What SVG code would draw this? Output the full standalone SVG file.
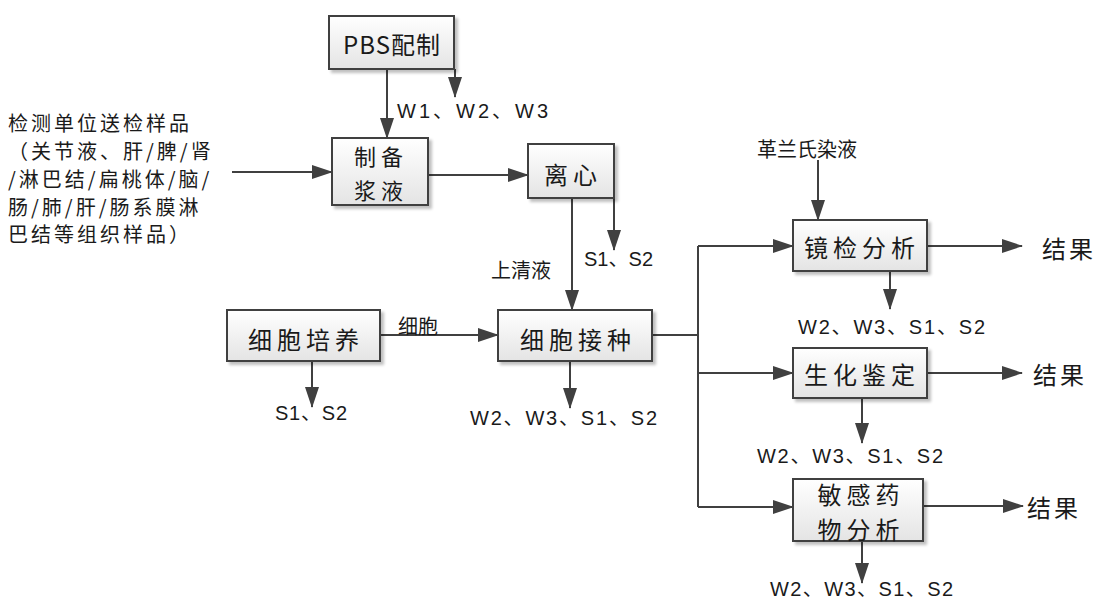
<svg xmlns="http://www.w3.org/2000/svg" width="1097" height="601" viewBox="0 0 1097 601">
<defs>
<linearGradient id="boxfill" x1="0" y1="0" x2="0" y2="1">
<stop offset="0" stop-color="#ffffff"/>
<stop offset="1" stop-color="#e4e4e4"/>
</linearGradient>
<filter id="shadow" x="-10%" y="-10%" width="130%" height="140%">
<feGaussianBlur in="SourceAlpha" stdDeviation="1.5"/>
<feOffset dx="3" dy="3" result="b"/>
<feComponentTransfer><feFuncA type="linear" slope="0.25"/></feComponentTransfer>
<feMerge><feMergeNode/><feMergeNode in="SourceGraphic"/></feMerge>
</filter>
<marker id="arr" markerUnits="userSpaceOnUse" markerWidth="22" markerHeight="14" refX="20" refY="7" orient="auto">
<path d="M0,0 L21,7 L0,14 z" fill="#404040"/>
</marker>
</defs>
<style>
.box{fill:url(#boxfill);stroke:#404040;stroke-width:2;filter:url(#shadow)}
.ln{fill:none;stroke:#404040;stroke-width:2}
.a{marker-end:url(#arr)}
.t{font-family:"Noto Sans CJK SC","Liberation Sans",sans-serif;fill:#1a1a1a}
.bt{font-size:24px;letter-spacing:5px;text-anchor:middle;dominant-baseline:central}
.lt{font-size:20px;dominant-baseline:central}
.w{font-family:"Liberation Sans","Noto Sans CJK SC",sans-serif;font-size:20px;fill:#1a1a1a;dominant-baseline:central}
</style>
<rect width="1097" height="601" fill="#ffffff"/>

<g id="connectors">
<path class="ln a" d="M387,69 V138"/>
<path class="ln a" d="M455,69 V97"/>
<path class="ln a" d="M232,172 H332"/>
<path class="ln a" d="M428,175 H528"/>
<path class="ln a" d="M572,198 V310"/>
<path class="ln a" d="M614,198 V250"/>
<path class="ln a" d="M380,335 H498"/>
<path class="ln a" d="M312,361 V407"/>
<path class="ln a" d="M570,361 V408"/>
<path class="ln" d="M652,335 H698"/>
<path class="ln" d="M698,246 V507"/>
<path class="ln a" d="M698,246 H793"/>
<path class="ln a" d="M698,373 H793"/>
<path class="ln a" d="M698,507 H793"/>
<path class="ln a" d="M818,160 V220"/>
<path class="ln a" d="M927,246 H1022"/>
<path class="ln a" d="M927,373 H1022"/>
<path class="ln a" d="M923,506 H1023"/>
<path class="ln a" d="M890,271 V309"/>
<path class="ln a" d="M862,398 V443"/>
<path class="ln a" d="M862,541 V583"/>
</g>

<g id="node-pbs">
<rect class="box" x="329" y="16" width="125" height="53"/>
<text class="t bt" x="392" y="43" style="letter-spacing:1px">PBS配制</text>
</g>
<g id="node-zhibei">
<rect class="box" x="332" y="138" width="96" height="67"/>
<text class="t bt" x="381" y="155" style="font-size:22px">制备</text>
<text class="t bt" x="381" y="189" style="font-size:22px">浆液</text>
</g>
<g id="node-lixin">
<rect class="box" x="528" y="144" width="86" height="54"/>
<text class="t bt" x="573" y="173">离心</text>
</g>
<g id="node-xibaopeiyang">
<rect class="box" x="227" y="310" width="153" height="51"/>
<text class="t bt" x="306" y="338">细胞培养</text>
</g>
<g id="node-xibaojiezhong">
<rect class="box" x="498" y="310" width="154" height="51"/>
<text class="t bt" x="578" y="338">细胞接种</text>
</g>
<g id="node-jingjian">
<rect class="box" x="793" y="220" width="134" height="51"/>
<text class="t bt" x="862" y="246">镜检分析</text>
</g>
<g id="node-shenghua">
<rect class="box" x="793" y="348" width="134" height="50"/>
<text class="t bt" x="862" y="373">生化鉴定</text>
</g>
<g id="node-minggan">
<rect class="box" x="793" y="479" width="130" height="62"/>
<text class="t bt" x="861" y="493">敏感药</text>
<text class="t bt" x="861" y="528">物分析</text>
</g>

<g id="labels">
<text class="t lt" x="8" y="122" style="letter-spacing:3px">检测单位送检样品</text>
<text class="t lt" x="8" y="150" style="letter-spacing:3px">（关节液、肝/脾/肾</text>
<text class="t lt" x="8" y="178" style="letter-spacing:3px">/淋巴结/扁桃体/脑/</text>
<text class="t lt" x="8" y="206" style="letter-spacing:3px">肠/肺/肝/肠系膜淋</text>
<text class="t lt" x="8" y="233" style="letter-spacing:3px">巴结等组织样品）</text>
<text class="w" x="397" y="111" textLength="151" lengthAdjust="spacing">W1、W2、W3</text>
<text class="w" x="584" y="259" textLength="69" lengthAdjust="spacing">S1、S2</text>
<text class="t lt" x="491" y="269">上清液</text>
<text class="t lt" x="398" y="325">细胞</text>
<text class="w" x="275" y="413" textLength="72" lengthAdjust="spacing">S1、S2</text>
<text class="w" x="470" y="418" textLength="187" lengthAdjust="spacing">W2、W3、S1、S2</text>
<text class="t lt" x="757" y="148">革兰氏染液</text>
<text class="w" x="798" y="327" textLength="187" lengthAdjust="spacing">W2、W3、S1、S2</text>
<text class="w" x="757" y="456" textLength="186" lengthAdjust="spacing">W2、W3、S1、S2</text>
<text class="w" x="770" y="589" textLength="183" lengthAdjust="spacing">W2、W3、S1、S2</text>
<text class="t lt" x="1042" y="247" style="font-size:24px;letter-spacing:3px">结果</text>
<text class="t lt" x="1033" y="373" style="font-size:24px;letter-spacing:3px">结果</text>
<text class="t lt" x="1027" y="506" style="font-size:24px;letter-spacing:3px">结果</text>
</g>
</svg>
